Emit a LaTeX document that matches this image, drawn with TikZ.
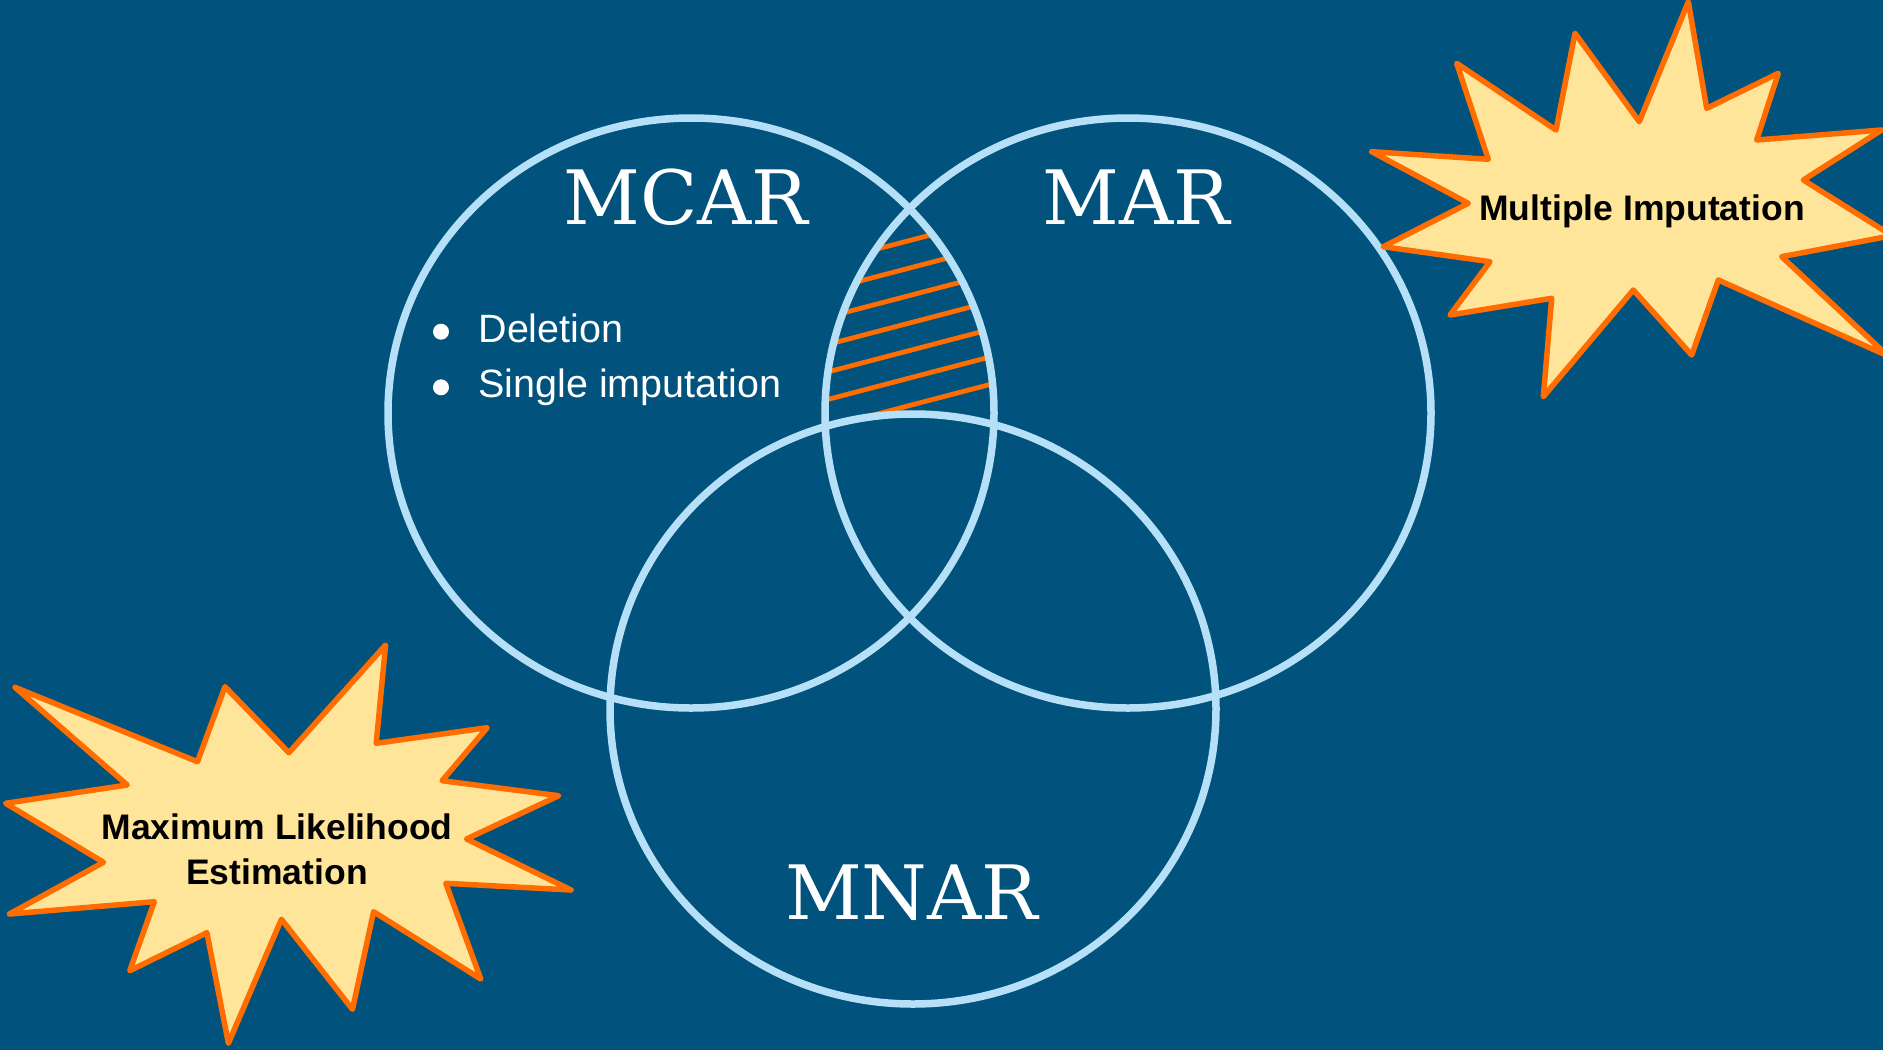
\documentclass[tikz,border=0pt]{standalone}
\usepackage{fontspec}
\usepackage{tikz}
\setmainfont{Liberation Sans}
\newfontfamily\slabfont{DejaVu Serif}
\definecolor{slidebg}{HTML}{01527C}
\definecolor{ringblue}{HTML}{B6E0F7}
\definecolor{burstorange}{HTML}{FF6D01}
\definecolor{burstfill}{HTML}{FFE599}

\begin{document}
\begin{tikzpicture}[x=1pt,y=-1pt,
	ring/.style={draw=ringblue,line width=7.5pt},
	hatchline/.style={draw=burstorange,line width=4.8pt},
	burst/.style={draw=burstorange,fill=burstfill,line width=5.5pt,line join=round},
	title/.style={text=white,font=\slabfont\fontsize{75}{80}\selectfont,anchor=base,inner sep=0pt},
	item/.style={text=white,font=\fontsize{39.5}{44}\selectfont,anchor=base west,inner sep=0pt},
	bursttext/.style={text=black,font=\bfseries\fontsize{35.5}{42}\selectfont,anchor=base,inner sep=0pt}]
	\useasboundingbox ( 0 , 0 ) rectangle ( 1883 , 1050 );
	\fill[slidebg] ( 0 , 0 ) rectangle ( 1883 , 1050 );
	\begin{scope}
	\clip ( 691 , 413 ) ellipse ( 303 and 295 );
	\clip ( 1128 , 413 ) ellipse ( 303 and 295 );
	\draw[hatchline] ( 800 , 269.2 )--( 1020 , 211.6 );
	\draw[hatchline] ( 800 , 296.7 )--( 1020 , 239.1 );
	\draw[hatchline] ( 800 , 324.2 )--( 1020 , 266.6 );
	\draw[hatchline] ( 800 , 351.7 )--( 1020 , 294.1 );
	\draw[hatchline] ( 800 , 379.2 )--( 1020 , 321.6 );
	\draw[hatchline] ( 800 , 406.7 )--( 1020 , 349.1 );
	\draw[hatchline] ( 800 , 434.2 )--( 1020 , 376.6 );
	\end{scope}
	\fill[slidebg] ( 913 , 709 ) ellipse ( 303 and 295 );
	\draw[ring] ( 691 , 413 ) ellipse ( 303 and 295 );
	\draw[ring] ( 1128 , 413 ) ellipse ( 303 and 295 );
	\draw[ring] ( 913 , 709 ) ellipse ( 303 and 295 );
	\node[title] (mcar) at ( 685.8 , 224 ) {MCAR};
	\node[title] (mar) at ( 1136.7 , 224 ) {MAR};
	\node[title] (mnar) at ( 911.7 , 919.3 ) {MNAR};
	\fill[white] ( 441 , 331.7 ) circle ( 8 );
	\fill[white] ( 441 , 387.3 ) circle ( 8 );
	\node[item] (deletion) at ( 478.3 , 342.7 ) {Deletion};
	\node[item] (single) at ( 478.3 , 397.3 ) {Single imputation};
	\draw[burst] ( 1688.3 , 1.7 )--( 1706.7 , 108.3 )--( 1778.3 , 73.3 )--( 1756.7 , 140 )--( 1881.7 , 130 )--( 1803.3 , 180 )--( 1892 , 235.6 )--( 1781.7 , 256.7 )--( 1888 , 356 )--( 1718.3 , 280 )--( 1691.7 , 355 )--( 1633.3 , 290 )--( 1543.3 , 396.7 )--( 1551.7 , 298.3 )--( 1450 , 315 )--( 1490 , 261.7 )--( 1383.3 , 246.7 )--( 1468.3 , 203.3 )--( 1371.7 , 151.7 )--( 1488.3 , 159.3 )--( 1456.7 , 63.3 )--( 1556 , 130 )--( 1575 , 33.3 )--( 1639.3 , 121.7 )--cycle;
	\draw[burst] ( 15 , 687.3 )--( 197.5 , 761.7 )--( 225 , 686.7 )--( 288.9 , 752.7 )--( 385.6 , 645 )--( 376.2 , 743.3 )--( 487.2 , 727.7 )--( 442.1 , 780.7 )--( 558.7 , 795.7 )--( 466.5 , 839 )--( 571.1 , 890 )--( 445.8 , 883.3 )--( 480.8 , 979 )--( 373.6 , 911.7 )--( 352.5 , 1009.3 )--( 281.4 , 919.3 )--( 228.4 , 1043.3 )--( 206.9 , 932.7 )--( 129.8 , 970.7 )--( 154.3 , 901.7 )--( 9.4 , 914 )--( 103.5 , 862.3 )--( 5.6 , 803.3 )--( 127.2 , 785 )--cycle;
	\node[bursttext] (multi) at ( 1642 , 220.7 ) {Multiple Imputation};
	\node[bursttext] (maxlik) at ( 277 , 839 ) {Maximum Likelihood};
	\node[bursttext] (estim) at ( 277 , 884 ) {Estimation};
\end{tikzpicture}
\end{document}
